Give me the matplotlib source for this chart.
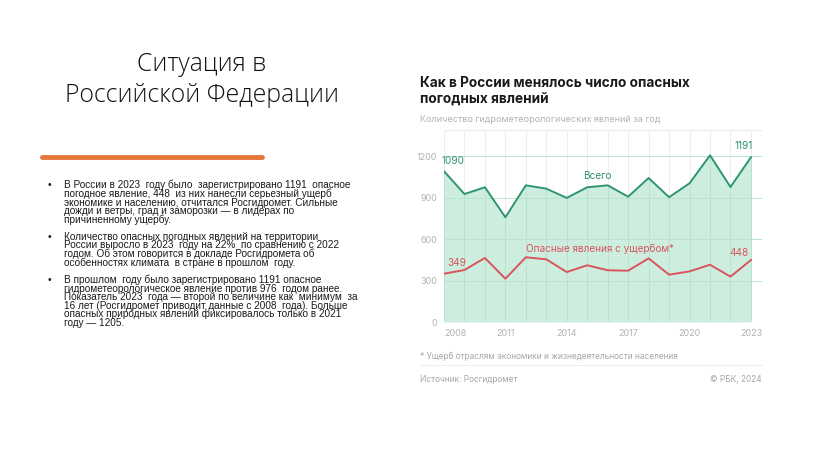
import matplotlib
matplotlib.use("Agg")
import matplotlib.pyplot as plt

# Данные: число опасных погодных явлений в России (Росгидромет)
years = list(range(2008, 2024))
total = [1090, 925, 974, 757, 988, 964, 897, 974, 988, 906, 1041, 902, 1003, 1205, 976, 1191]
damage = [349, 376, 463, 313, 468, 453, 361, 410, 374, 371, 460, 342, 366, 414, 328, 448]
tick_years = [2008, 2011, 2014, 2017, 2020, 2023]
y_ticks = [0, 300, 600, 900, 1200]

slide_title = "Ситуация в\nРоссийской Федерации"
bullets = [
    "В России в 2023  году было  зарегистрировано 1191  опасное\n"
    "погодное явление, 448  из них нанесли серьезный ущерб\n"
    "экономике и населению, отчитался Росгидромет. Сильные\n"
    "дожди и ветры, град и заморозки — в лидерах по\n"
    "причиненному ущербу.",
    "Количество опасных погодных явлений на территории\n"
    "России выросло в 2023  году на 22%  по сравнению с 2022\n"
    "годом. Об этом говорится в докладе Росгидромета об\n"
    "особенностях климата  в стране в прошлом  году.",
    "В прошлом  году было зарегистрировано 1191 опасное\n"
    "гидрометеорологическое явление против 976  годом ранее.\n"
    "Показатель 2023  года — второй по величине как  минимум  за\n"
    "16 лет (Росгидромет приводит данные с 2008  года). Больше\n"
    "опасных природных явлений фиксировалось только в 2021\n"
    "году — 1205.",
]

GREEN = "#2f9472"
FILL = "#cdeedf"
RED = "#d9545e"
GREY = "#b3b3b3"

W, H = 816, 459
fig = plt.figure(figsize=(W / 100, H / 100), dpi=100)
fig.patch.set_facecolor("white")

def fx(px):
    return px / W

def fy(py):
    return 1 - py / H

# --- левая часть слайда ---
fig.text(fx(202), fy(80), slide_title, ha="center", va="center",
         fontsize=17.8, family="Open Sans", fontweight="light",
         color="#111111", linespacing=1.3)
fig.add_artist(plt.Line2D([fx(42), fx(262)], [fy(157), fy(157)],
                          color="#e2773a", lw=3.5, solid_capstyle="round"))

bullet_y = [180, 232, 275]
for txt, y in zip(bullets, bullet_y):
    fig.text(fx(48), fy(y), "•", ha="left", va="top", fontsize=7.5,
             family="Liberation Sans", color="#222222")
    fig.text(fx(64), fy(y), txt, ha="left", va="top", fontsize=7.2,
             family=["Liberation Sans Narrow", "Liberation Sans"],
             color="#1a1a1a", linespacing=0.8)

# --- правая часть: график ---
fig.text(fx(420), fy(91), "Как в России менялось число опасных\nпогодных явлений",
         ha="left", va="center", fontsize=9.8, family="Inter",
         fontweight="bold", color="#1a1a1a", linespacing=1.2)
fig.text(fx(420), fy(119), "Количество гидрометеорологических явлений за год",
         ha="left", va="center", fontsize=6.5, family="Inter", color=GREY)

ax = fig.add_axes([fx(444), fy(322), fx(762) - fx(444), fy(130) - fy(322)])
ax.set_xlim(2008, 2023.54)
ax.set_ylim(0, 1388)

ax.fill_between(years, 0, total, color=FILL, lw=0, zorder=1)
ax.plot(years, total, color=GREEN, lw=1.4, zorder=3)
ax.plot(years, damage, color=RED, lw=1.4, zorder=3)

# сетка
for yr in years:
    ax.axvline(yr, color="#ececec", lw=0.7, zorder=0.5)
    ax.axvline(yr, color="#b9e2cf", lw=0.7, zorder=2,
               ymax=total[years.index(yr)] / 1388)
for v in y_ticks[1:]:
    ax.axhline(v, color="#ececec", lw=0.7, zorder=0.5)
    ax.axhline(v, color="#b9e2cf", lw=0.7, zorder=1.5)
ax.axhline(1388, color="#ececec", lw=1, zorder=0.5)
ax.axhline(0, color="#e4e4e4", lw=0.7, zorder=0.5)

for s in ax.spines.values():
    s.set_visible(False)
ax.set_xticks(tick_years)
ax.set_xticklabels([str(t) for t in tick_years])
ax.set_yticks(y_ticks)
ax.tick_params(length=0, labelsize=6.5, colors=GREY, pad=5)
for lab in ax.get_xticklabels():
    lab.set_fontfamily("Inter")
for lab in ax.get_yticklabels():
    lab.set_fontfamily("Inter")
ax.get_xticklabels()[0].set_horizontalalignment("left")
ax.get_xticklabels()[0].set_x(2007.9)
ax.set_facecolor("none")

# подписи
ax.text(years[0] - 0.1, 1165, str(total[0]), ha="left", va="center",
        fontsize=7.2, color=GREEN, family="Inter")
ax.text(years[-1] + 0.1, 1272, str(total[-1]), ha="right", va="center",
        fontsize=7.2, color=GREEN, family="Inter")
ax.text(2015.5, 1055, "Всего", ha="center", va="center",
        fontsize=7.2, color=GREEN, family="Inter")
ax.text(years[0] + 0.15, 428, str(damage[0]), ha="left", va="center",
        fontsize=7.2, color=RED, family="Inter")
ax.text(years[-1] - 0.1, 500, str(damage[-1]), ha="right", va="center",
        fontsize=7.2, color=RED, family="Inter")
ax.text(2015.6, 530, "Опасные явления с ущербом*", ha="center", va="center",
        fontsize=7.2, color=RED, family="Inter")

# подвал
fig.text(fx(420), fy(356), "* Ущерб отраслям экономики и жизнедеятельности населения",
         ha="left", va="center", fontsize=6, family="Inter", color="#a6a6a6")
fig.add_artist(plt.Line2D([fx(420), fx(762)], [fy(365), fy(365)],
                          color="#eeeeee", lw=0.8))
fig.text(fx(420), fy(379), "Источник: Росгидромет", ha="left", va="center",
         fontsize=6, family="Inter", color="#a6a6a6")
fig.text(fx(762), fy(379), "© РБК, 2024", ha="right", va="center",
         fontsize=6, family="Inter", color="#a6a6a6")

fig.savefig("out.png", dpi=100, facecolor="white")
plt.close(fig)
